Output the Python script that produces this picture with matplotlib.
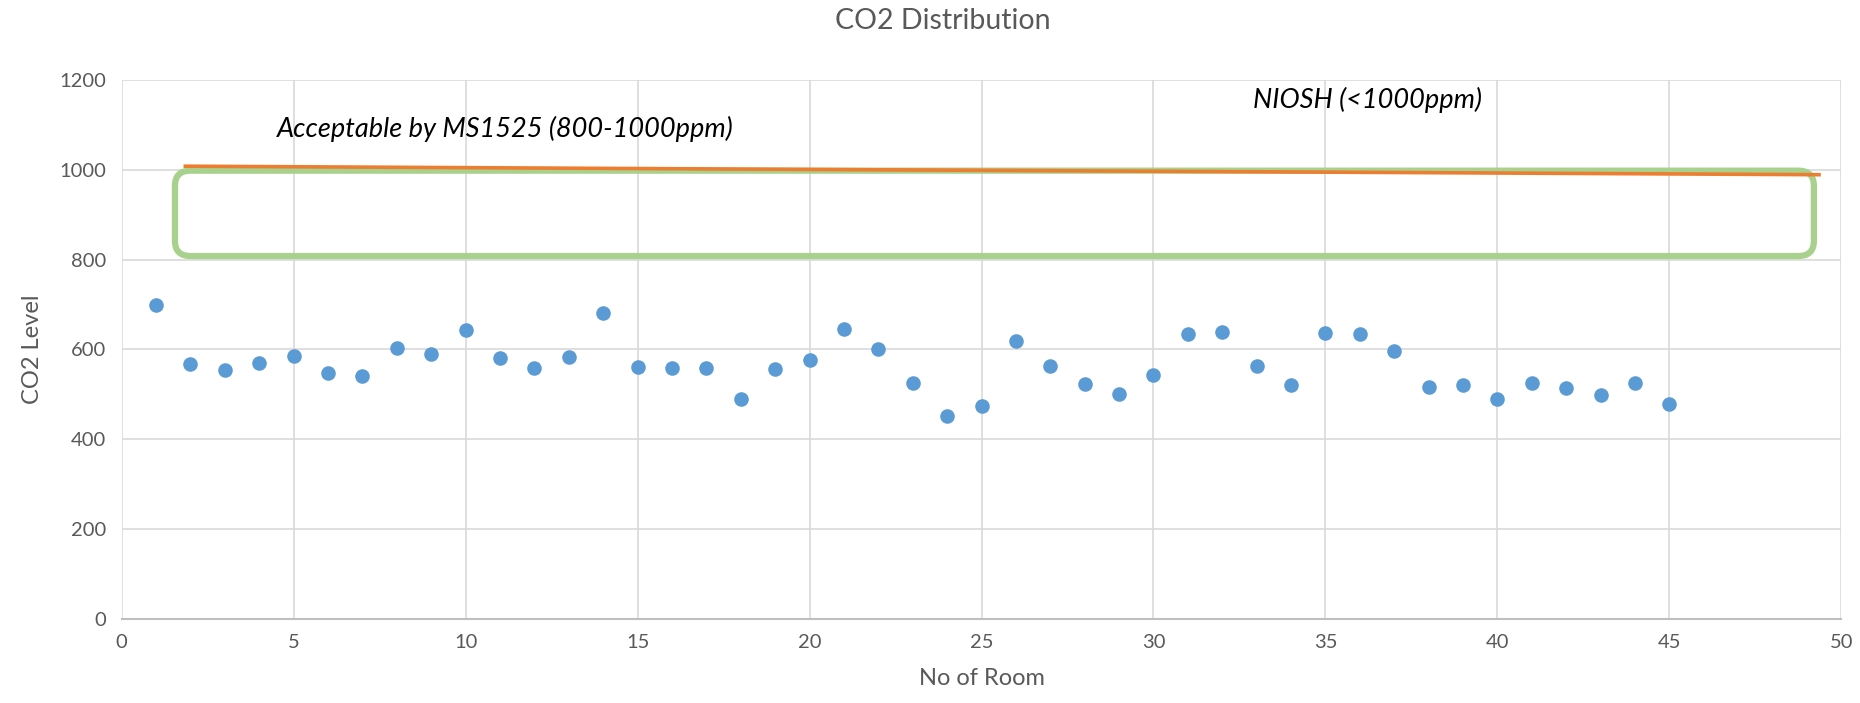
import numpy as np
import matplotlib
matplotlib.use("Agg")
import matplotlib.pyplot as plt
from matplotlib.patches import FancyBboxPatch

plt.rcParams['font.family'] = ['Lato', 'DejaVu Sans']

# ---- datos ----
rooms = list(range(1, 46))
co2 = [700, 567, 555, 569, 586, 548, 542, 603, 589, 644,
       582, 559, 583, 681, 561, 558, 559, 489, 556, 576,
       645, 601, 525, 452, 474, 618, 563, 524, 500, 543,
       634, 639, 564, 520, 636, 634, 597, 516, 520, 489,
       525, 514, 499, 525, 479]

# linea NIOSH (dibujada a mano en el original)
niosh_x = [1.8, 49.4]
niosh_y = [1008, 989]

# zona aceptable MS1525
zone_x = [1.55, 49.2]
zone_y = [808, 998]

x_ticks = list(range(0, 51, 5))
y_ticks = list(range(0, 1201, 200))

grid_c = '#D9D9D9'
text_c = '#595959'

fig = plt.figure(figsize=(18.6, 7.03), dpi=100)
ax = fig.add_axes([0.0654, 0.1195, 0.9246, 0.7668])

ax.set_xlim(0, 50)
ax.set_ylim(0, 1200)
ax.set_xticks(x_ticks)
ax.set_yticks(y_ticks)
ax.grid(True, color=grid_c, linewidth=1.2)
ax.set_axisbelow(True)
for s in ['left', 'right', 'top']:
    ax.spines[s].set_visible(False)
ax.spines['bottom'].set_color('#BFBFBF')
ax.spines['bottom'].set_linewidth(1.5)
ax.tick_params(length=0, colors=text_c, labelsize=14.5, pad=11)

# zona verde redondeada
zone = FancyBboxPatch((zone_x[0], zone_y[0]), zone_x[1] - zone_x[0], zone_y[1] - zone_y[0],
                      boxstyle="round,pad=0,rounding_size=0.45", mutation_aspect=75,
                      fill=False, edgecolor='#A9D18E', linewidth=4.5, zorder=3)
ax.add_patch(zone)

ax.plot(niosh_x, niosh_y, color='#ED7D31', linewidth=2.6, zorder=4, solid_capstyle='butt')

ax.scatter(rooms, co2, s=110, color='#5B9BD5', zorder=5, linewidths=0)

ax.text(4.5, 1092, 'Acceptable by MS1525 (800-1000ppm)', fontsize=19.5, style='italic',
        color='black', va='center', ha='left')
ax.text(32.9, 1155, 'NIOSH (<1000ppm)', fontsize=19.5, style='italic',
        color='black', va='center', ha='left')

fig.text(0.507, 0.97, 'CO2 Distribution', fontsize=20.5, color=text_c, ha='center', va='center')
ax.set_xlabel('No of Room', fontsize=17, color=text_c, labelpad=12)
ax.set_ylabel('CO2 Level', fontsize=17, color=text_c, labelpad=12)

fig.savefig('out.png', dpi=100)
